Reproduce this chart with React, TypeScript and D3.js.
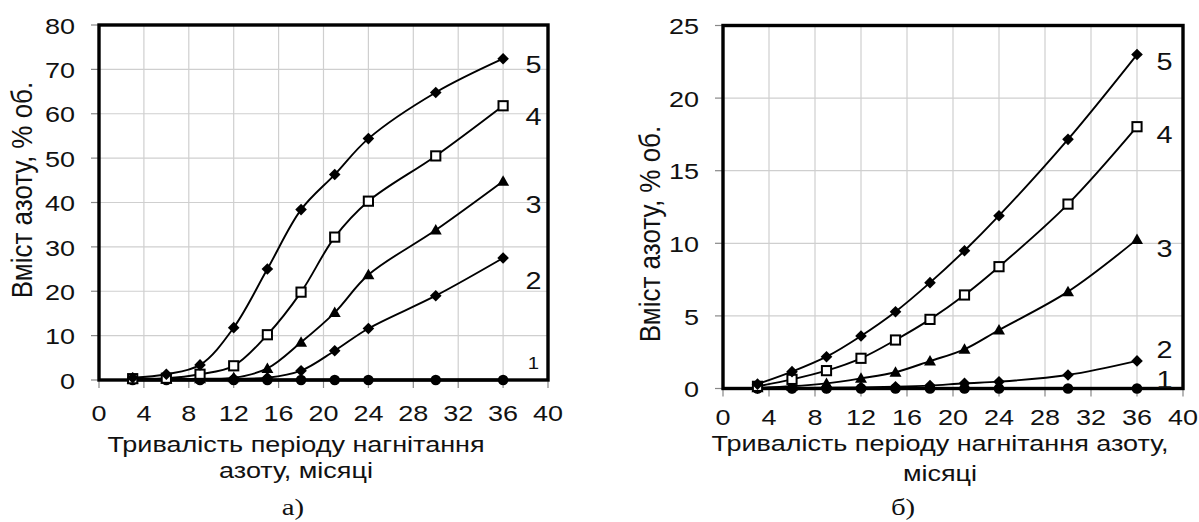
import * as d3 from 'd3';

// місяці нагнітання
const months = [3, 6, 9, 12, 15, 18, 21, 24, 30, 36];
const xTicks = [0, 4, 8, 12, 16, 20, 24, 28, 32, 36, 40];

// а) — криві 1..5
const a1 = [0, 0, 0, 0, 0, 0, 0, 0, 0, 0];
const a2 = [0.2, 0.2, 0.2, 0.3, 0.5, 2.1, 6.6, 11.6, 19.0, 27.5];
const a3 = [0.2, 0.2, 0.3, 0.5, 2.6, 8.5, 15.2, 23.7, 33.8, 44.8];
const a4 = [0.3, 0.4, 1.3, 3.2, 10.2, 19.8, 32.2, 40.3, 50.5, 61.8];
const a5 = [0.5, 1.3, 3.4, 11.8, 25.0, 38.4, 46.3, 54.4, 64.8, 72.4];
const aYTicks = [0, 10, 20, 30, 40, 50, 60, 70, 80];
const aLabelY = [3.8, 22.3, 39.4, 59.2, 71];

// б) — криві 1..5
const b1 = [0, 0, 0, 0, 0, 0, 0, 0, 0, 0];
const b2 = [0.02, 0.03, 0.05, 0.08, 0.12, 0.2, 0.36, 0.47, 0.93, 1.9];
const b3 = [0.05, 0.15, 0.35, 0.7, 1.12, 1.89, 2.7, 4.03, 6.67, 10.27];
const b4 = [0.15, 0.63, 1.23, 2.08, 3.34, 4.76, 6.44, 8.39, 12.7, 18.03];
const b5 = [0.3, 1.16, 2.19, 3.62, 5.29, 7.29, 9.49, 11.9, 17.16, 23.0];
const bYTicks = [0, 5, 10, 15, 20, 25];
const bLabelY = [0.6, 2.65, 9.6, 17.46, 22.5];

const seriesNames = ['1', '2', '3', '4', '5'];
const markerKinds = ['circle', 'diamond', 'triangle', 'square', 'diamond'];

const yTitle = 'Вміст азоту, % об.';

const SX = 1.2; // text in the source is a bit wider than Arial
const FONT = "'Liberation Sans', Arial, sans-serif";
const GRID = '#cfcfcf';

function Txt({ x, y, size, anchor = 'middle', baseline, rotate = false, family = FONT, children }: any) {
  const tr = rotate
    ? `translate(${x},${y}) scale(1.1,1) rotate(-90)`
    : `translate(${x},${y}) scale(${SX},1)`;
  return (
    <text
      transform={tr}
      fontSize={size}
      fontFamily={family}
      textAnchor={anchor}
      dominantBaseline={baseline}
      fill="#111"
    >
      {children}
    </text>
  );
}

function Marker({ kind, x, y }: { kind: string; x: number; y: number }) {
  if (kind === 'circle') return <circle cx={x} cy={y} r={5.3} fill="#000" />;
  if (kind === 'diamond')
    return <path d={`M${x},${y - 5.8}L${x + 5.8},${y}L${x},${y + 5.8}L${x - 5.8},${y}Z`} fill="#000" />;
  if (kind === 'triangle')
    return <path d={`M${x},${y - 6}L${x + 6},${y + 4.5}L${x - 6},${y + 4.5}Z`} fill="#000" />;
  return <rect x={x - 4.6} y={y - 4.6} width={9.2} height={9.2} fill="#fff" stroke="#000" strokeWidth={2} />;
}

interface PanelProps {
  left: number;
  right: number;
  top: number;
  bottom: number;
  yTicks: number[];
  series: number[][];
  labelY: number[];
  labelX: number;
  smallOne: boolean;
  tickGap: number;
  yTitleX: number;
  yTitleY: number;
  titleLines: string[];
  titleX: number;
  titleY: number[];
  caption: string;
  captionX: number;
}

function Panel(p: PanelProps) {
  const x = d3.scaleLinear().domain([0, 40]).range([p.left, p.right]);
  const yMax = p.yTicks[p.yTicks.length - 1];
  const y = d3.scaleLinear().domain([0, yMax]).range([p.bottom, p.top]);
  const line = d3
    .line<number>()
    .x((_, i) => x(months[i]))
    .y((d) => y(d))
    .curve(d3.curveCatmullRom);

  return (
    <g>
      {/* grid */}
      {xTicks.slice(1, -1).map((t) => (
        <line key={'gx' + t} x1={x(t)} x2={x(t)} y1={p.top} y2={p.bottom} stroke={GRID} strokeWidth={1.2} />
      ))}
      {p.yTicks.slice(1, -1).map((t) => (
        <line key={'gy' + t} x1={p.left} x2={p.right} y1={y(t)} y2={y(t)} stroke={GRID} strokeWidth={1.2} />
      ))}

      {/* tick marks */}
      {xTicks.map((t) => (
        <line key={'tx' + t} x1={x(t)} x2={x(t)} y1={p.bottom} y2={p.bottom + 8} stroke="#888" strokeWidth={1.2} />
      ))}
      {p.yTicks.map((t) => (
        <line key={'ty' + t} x1={p.left - 8} x2={p.left} y1={y(t)} y2={y(t)} stroke="#888" strokeWidth={1.2} />
      ))}

      {/* frame */}
      <rect
        x={p.left}
        y={p.top}
        width={p.right - p.left}
        height={p.bottom - p.top}
        fill="none"
        stroke="#000"
        strokeWidth={3.4}
      />

      {/* series */}
      {p.series.map((s, si) => (
        <g key={'s' + si}>
          <path d={line(s) ?? ''} fill="none" stroke="#000" strokeWidth={si === 0 ? 3 : 1.9} />
          {s.map((v, i) => (
            <Marker key={i} kind={markerKinds[si]} x={x(months[i])} y={y(v)} />
          ))}
        </g>
      ))}

      {/* series numbers */}
      {seriesNames.map((n, i) => (
        <Txt
          key={'n' + n}
          x={x(p.labelX)}
          y={y(p.labelY[i])}
          size={i === 0 && p.smallOne ? 17 : 24}
          baseline="central"
        >
          {n}
        </Txt>
      ))}

      {/* tick labels */}
      {p.yTicks.map((t) => (
        <Txt key={'ly' + t} x={p.left - 24} y={y(t) + 1} size={22.5} anchor="end" baseline="central">
          {t}
        </Txt>
      ))}
      {xTicks.map((t) => (
        <Txt key={'lx' + t} x={x(t)} y={p.bottom + p.tickGap} size={22.5}>
          {t}
        </Txt>
      ))}

      {/* axis titles */}
      <Txt x={p.yTitleX} y={p.yTitleY} size={26} rotate>
        {yTitle}
      </Txt>
      {p.titleLines.map((l, i) => (
        <Txt key={'t' + i} x={p.titleX} y={p.titleY[i]} size={22.5}>
          {l}
        </Txt>
      ))}

      <Txt x={p.captionX} y={515} size={24} family="'Liberation Serif', 'Times New Roman', serif">
        {p.caption}
      </Txt>
    </g>
  );
}

export default function App() {
  return (
    <svg
      width={1199}
      height={522}
      style={{ position: 'absolute', left: 0, top: 0, background: '#fff', display: 'block' }}
    >
      <Panel
        left={99}
        right={548}
        top={25}
        bottom={380}
        yTicks={aYTicks}
        series={[a1, a2, a3, a4, a5]}
        labelY={aLabelY}
        labelX={38.7}
        smallOne
        tickGap={41}
        yTitleX={32}
        yTitleY={190}
        titleLines={['Тривалість періоду нагнітання', 'азоту, місяці']}
        titleX={296}
        titleY={[452, 478]}
        caption="а)"
        captionX={293}
      />
      <Panel
        left={723}
        right={1183}
        top={25.5}
        bottom={388.5}
        yTicks={bYTicks}
        series={[b1, b2, b3, b4, b5]}
        labelY={bLabelY}
        labelX={38.4}
        smallOne={false}
        tickGap={36.5}
        yTitleX={660}
        yTitleY={234}
        titleLines={['Тривалість періоду нагнітання азоту,', 'місяці']}
        titleX={940}
        titleY={[451, 481]}
        caption="б)"
        captionX={903}
      />
    </svg>
  );
}
